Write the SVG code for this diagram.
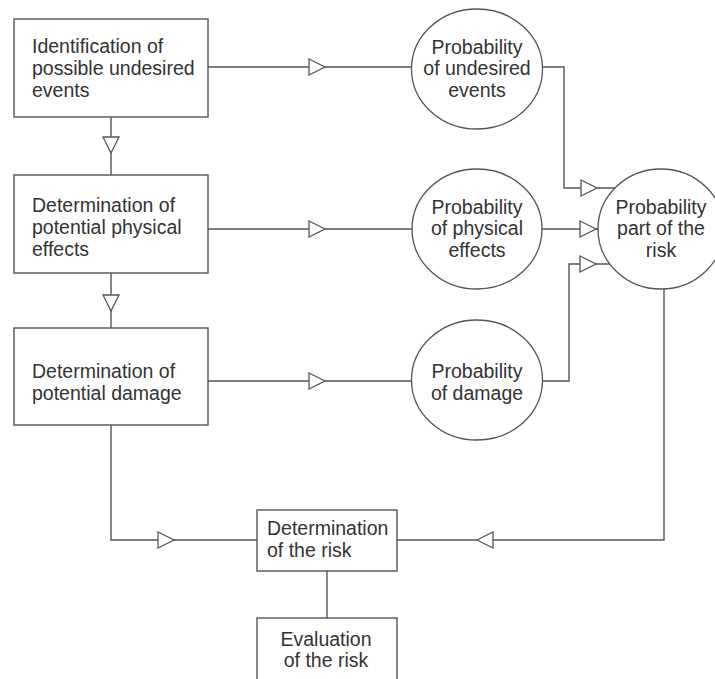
<svg xmlns="http://www.w3.org/2000/svg" xmlns:xlink="http://www.w3.org/1999/xlink" width="715" height="679" viewBox="0 0 715 679">
<style>
.box{fill:#fff;stroke:#555;stroke-width:1.4}
.ell{fill:#fff;stroke:#555;stroke-width:1.3}
.ln{fill:none;stroke:#555;stroke-width:1.4}
.arr{fill:#fff;stroke:#555;stroke-width:1.3;stroke-linejoin:miter}
text{font-family:"Liberation Sans",Arial,sans-serif;font-size:19.5px;fill:#333}
.c{text-anchor:middle}
</style>
<defs>
<polygon id="tri" class="arr" points="0,-8 16,0 0,8"/>
</defs>
<rect width="715" height="679" fill="#fff"/>
<g id="connectors">
<path class="ln" d="M208,67 H412"/>
<path class="ln" d="M208,229 H412"/>
<path class="ln" d="M208,381 H412"/>
<path class="ln" d="M111,117 V175"/>
<path class="ln" d="M111,273 V328"/>
<path class="ln" d="M542,67 H564 V188 H615"/>
<path class="ln" d="M542,229 H598"/>
<path class="ln" d="M542,381 H569 V264 H612"/>
<path class="ln" d="M111,425 V540 H257"/>
<path class="ln" d="M397,540 H664 V288"/>
<path class="ln" d="M327,571 V618"/>
<use xlink:href="#tri" href="#tri" transform="translate(309,67)"/>
<use xlink:href="#tri" href="#tri" transform="translate(309,229)"/>
<use xlink:href="#tri" href="#tri" transform="translate(309,381)"/>
<use xlink:href="#tri" href="#tri" transform="translate(111,137) rotate(90)"/>
<use xlink:href="#tri" href="#tri" transform="translate(111,295) rotate(90)"/>
<use xlink:href="#tri" href="#tri" transform="translate(581,188)"/>
<use xlink:href="#tri" href="#tri" transform="translate(580,229)"/>
<use xlink:href="#tri" href="#tri" transform="translate(580,264)"/>
<use xlink:href="#tri" href="#tri" transform="translate(158,540)"/>
<use xlink:href="#tri" href="#tri" transform="translate(493,540) rotate(180)"/>
</g>
<g id="box1">
<rect class="box" x="14" y="19" width="194" height="98"/>
<text x="32" y="53">Identification of</text>
<text x="32" y="75">possible undesired</text>
<text x="32" y="96.5">events</text>
</g>
<g id="box2">
<rect class="box" x="14" y="175" width="194" height="98"/>
<text x="32" y="212">Determination of</text>
<text x="32" y="234">potential physical</text>
<text x="32" y="256">effects</text>
</g>
<g id="box3">
<rect class="box" x="14" y="328" width="194" height="97"/>
<text x="32" y="378">Determination of</text>
<text x="32" y="400">potential damage</text>
</g>
<g id="circle1">
<ellipse class="ell" cx="477" cy="69" rx="65.5" ry="60"/>
<text class="c" x="477" y="53.5">Probability</text>
<text class="c" x="477" y="75">of undesired</text>
<text class="c" x="477" y="96.5">events</text>
</g>
<g id="circle2">
<ellipse class="ell" cx="477" cy="229" rx="65" ry="60"/>
<text class="c" x="477" y="213.5">Probability</text>
<text class="c" x="477" y="235">of physical</text>
<text class="c" x="477" y="256.5">effects</text>
</g>
<g id="circle3">
<ellipse class="ell" cx="477" cy="380" rx="65.5" ry="60"/>
<text class="c" x="477" y="378">Probability</text>
<text class="c" x="477" y="400">of damage</text>
</g>
<g id="circle4">
<ellipse class="ell" cx="661" cy="229" rx="63" ry="60"/>
<text class="c" x="661" y="213.5">Probability</text>
<text class="c" x="661" y="235">part of the</text>
<text class="c" x="661" y="256.5">risk</text>
</g>
<g id="detrisk">
<rect class="box" x="257" y="510" width="140" height="61"/>
<text x="267" y="535">Determination</text>
<text x="267" y="556.5">of the risk</text>
</g>
<g id="evalrisk">
<rect class="box" x="257" y="618" width="140" height="70"/>
<text class="c" x="326" y="646">Evaluation</text>
<text class="c" x="326" y="667">of the risk</text>
</g>
</svg>
